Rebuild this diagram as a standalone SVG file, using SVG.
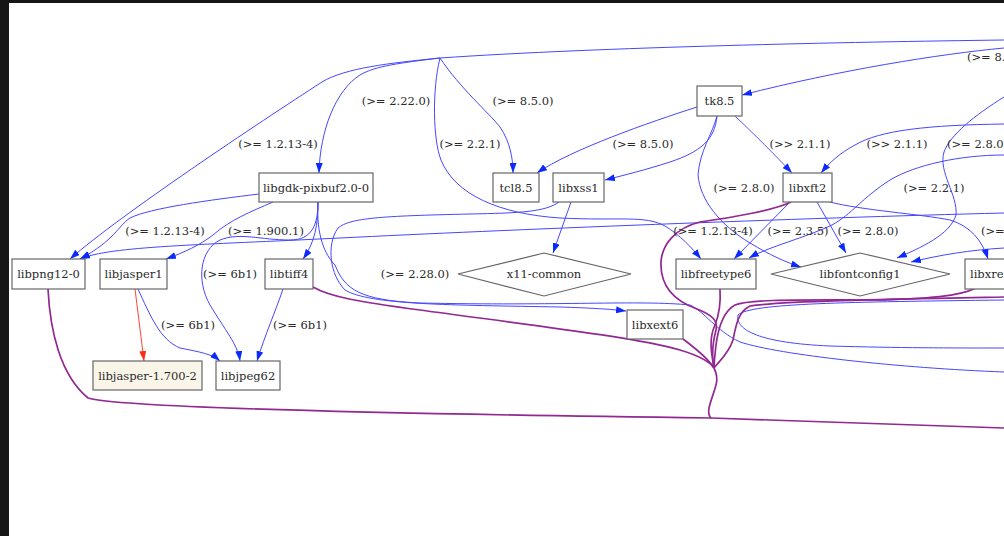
<svg xmlns="http://www.w3.org/2000/svg" width="1004" height="536" viewBox="0 0 1004 536">
<defs>
<marker id="ab" viewBox="0 0 10 7" refX="10" refY="3.5" markerWidth="10" markerHeight="7" markerUnits="userSpaceOnUse" orient="auto"><path d="M0,0 L10,3.5 L0,7 z" fill="#0a2aff"/></marker>
<marker id="ar" viewBox="0 0 10 7" refX="10" refY="3.5" markerWidth="10" markerHeight="7" markerUnits="userSpaceOnUse" orient="auto"><path d="M0,0 L10,3.5 L0,7 z" fill="#ff2a10"/></marker>
<style>
.n rect,.n polygon{fill:#fff;stroke:#666;stroke-width:1.2}
text{font-family:"DejaVu Serif","Liberation Serif",serif;font-size:11.5px;fill:#2a2a2a;text-anchor:middle}
.b{fill:none;stroke:#4646ff;stroke-width:1}
.ba{fill:none;stroke:#4646ff;stroke-width:1;marker-end:url(#ab)}
.p{fill:none;stroke:#922892;stroke-width:1.7}
.r{fill:none;stroke:#ff4433;stroke-width:1;marker-end:url(#ar)}
</style>
</defs>
<rect x="0" y="0" width="1004" height="536" fill="#161616"/>
<rect x="9" y="3" width="995" height="533" fill="#fff"/>
<g id="connectors">
<path class="b" d="M1004,40 C850,42 600,47 440,58"/>
<path class="ba" d="M440,58 C390,63 345,68 322,82 C260,122 120,215 70,259"/>
<path class="ba" d="M440,58 C400,63 375,66 360,75 C336,90 320,130 319,173"/>
<path class="ba" d="M440,58 C460,88 488,112 500,127 C510,142 513,158 513,173"/>
<path class="ba" d="M440,58 C432,90 433,140 441,160 C455,195 500,214 560,218 C620,221 645,215 665,226 C680,235 692,248 701,259"/>
<path class="ba" d="M697,107 C650,122 570,150 537,173"/>
<path class="ba" d="M717,116 C715,140 700,152 670,162 C645,170 625,175 605,180"/>
<path class="ba" d="M717,116 C712,135 700,150 698,175 C700,200 720,225 750,243 C770,255 785,262 801,267"/>
<path class="ba" d="M735,116 C755,135 775,155 792,173" style="stroke:#5555ff"/>
<path class="ba" d="M1004,48 C940,54 840,70 742,95"/>
<path class="ba" d="M1004,124 C930,125 880,130 855,145 C840,153 830,162 821,173"/>
<path class="ba" d="M1004,97 C975,115 950,135 944,152 C938,172 958,195 956,215 C950,235 920,248 897,258"/>
<path class="ba" d="M1004,155 C960,155 915,165 890,180 C862,198 852,214 832,225 C805,238 770,246 749,258"/>
<path class="ba" d="M1004,248 C970,250 940,255 911,262"/>
<path class="ba" d="M790,202 L734,259"/>
<path class="ba" d="M817,202 L846,253"/>
<path class="ba" d="M830,202 C860,210 920,214 950,220 C970,226 982,240 988,259"/>
<path class="ba" d="M571,202 L553,253"/>
<path class="ba" d="M559,202 C545,212 520,213 470,214 C380,216 350,218 338,228 C326,245 330,275 345,290 C370,305 450,305 560,307 C590,308 610,309 626,311"/>
<path class="ba" d="M1004,213 C800,218 500,230 340,238 C200,245 110,246 80,259"/>
<path class="ba" d="M259,194 C210,200 150,208 130,218 C118,226 115,240 80,259"/>
<path class="ba" d="M273,202 C250,212 230,220 213,235 C200,245 185,252 166,259"/>
<path class="ba" d="M318,202 C318,225 315,242 303,259"/>
<path class="ba" d="M318,202 C318,225 312,240 290,240 C260,240 240,232 220,240 C200,250 196,280 210,305 C225,330 238,345 240,361"/>
<path class="ba" d="M283,289 C276,310 265,335 257,361"/>
<path class="ba" d="M138,289 C150,315 160,340 180,348 C200,352 212,354 220,361"/>
<path class="r" d="M135,289 L144,361"/>
<path class="b" d="M318,202 C316,235 325,255 335,265 C345,290 360,300 420,303 C560,306 640,300 690,305 C705,312 715,330 740,342 C780,355 900,368 1004,372"/>
<path class="b" d="M1004,300 C850,302 750,303 738,315 C735,330 760,343 830,346 C900,348 950,348 1004,348"/>
<path class="p" d="M48,289 C50,330 60,375 88,398 C120,408 400,414 711,418 C800,421 900,425 1004,428"/>
<path class="p" d="M711,418 C705,412 712,400 716,385 C718,378 716,372 714,368"/>
<path class="p" d="M683,339 C695,348 708,358 714,368"/>
<path class="p" d="M313,287 C330,297 360,302 420,310 C530,325 640,338 680,350 C700,356 710,362 714,368"/>
<path class="p" d="M720,289 C721,305 719,315 715,325 C708,340 712,355 714,368"/>
<path class="p" d="M791,202 C775,210 730,218 700,222 C675,228 662,245 661,262 C660,285 672,300 697,309 C712,315 718,320 716,330 C712,345 712,358 714,368"/>
<path class="p" d="M976,288 C960,296 930,299 870,300 C800,300 750,299 735,305 C722,312 718,330 716,345 C715,355 714,362 714,368"/>
<path class="p" d="M1004,297 C900,299 780,301 750,306 C738,312 736,325 733,340 C728,355 718,362 714,368"/>
</g>
<g id="labels">
<text x="278" y="148">(&gt;= 1.2.13-4)</text>
<text x="396" y="105">(&gt;= 2.22.0)</text>
<text x="523" y="105">(&gt;= 8.5.0)</text>
<text x="470" y="148">(&gt;= 2.2.1)</text>
<text x="643" y="148">(&gt;= 8.5.0)</text>
<text x="800" y="148">(&gt;&gt; 2.1.1)</text>
<text x="897" y="148">(&gt;&gt; 2.1.1)</text>
<text x="947" y="148" style="text-anchor:start">(&gt;= 2.8.0</text>
<text x="967" y="61" style="text-anchor:start">(&gt;= 8.</text>
<text x="165" y="235">(&gt;= 1.2.13-4)</text>
<text x="266" y="235">(&gt;= 1.900.1)</text>
<text x="230" y="278">(&gt;= 6b1)</text>
<text x="188" y="329">(&gt;= 6b1)</text>
<text x="300" y="329">(&gt;= 6b1)</text>
<text x="415" y="278">(&gt;= 2.28.0)</text>
<text x="744" y="192">(&gt;= 2.8.0)</text>
<text x="713" y="235">(&gt;= 1.2.13-4)</text>
<text x="798" y="235">(&gt;= 2.3.5)</text>
<text x="868" y="235">(&gt;= 2.8.0)</text>
<text x="934" y="192">(&gt;= 2.2.1)</text>
<text x="981" y="235" style="text-anchor:start">(&gt;=</text>
</g>
<g id="tk8.5" class="n"><rect x="697" y="86" width="45" height="30"/><text x="719.5" y="105">tk8.5</text></g>
<g id="tcl8.5" class="n"><rect x="493" y="173" width="46" height="29"/><text x="516" y="192">tcl8.5</text></g>
<g id="libxss1" class="n"><rect x="553" y="173" width="51" height="29"/><text x="578.5" y="192">libxss1</text></g>
<g id="libgdk-pixbuf2.0-0" class="n"><rect x="259" y="173" width="114" height="29"/><text x="316" y="192">libgdk-pixbuf2.0-0</text></g>
<g id="libxft2" class="n"><rect x="783" y="173" width="49" height="29"/><text x="807.5" y="192">libxft2</text></g>
<g id="libpng12-0" class="n"><rect x="12" y="259" width="73" height="30"/><text x="48.5" y="278">libpng12-0</text></g>
<g id="libjasper1" class="n"><rect x="100" y="259" width="67" height="30"/><text x="133.5" y="278">libjasper1</text></g>
<g id="libtiff4" class="n"><rect x="265" y="259" width="48" height="30"/><text x="289" y="278">libtiff4</text></g>
<g id="x11-common" class="n"><polygon points="458,274 544,253 631,274 544,296"/><text x="544" y="278">x11-common</text></g>
<g id="libfreetype6" class="n"><rect x="676" y="259" width="80" height="30"/><text x="716" y="278">libfreetype6</text></g>
<g id="libfontconfig1" class="n"><polygon points="771,274 860,253 950,274 860,296"/><text x="860" y="278">libfontconfig1</text></g>
<g id="libxrender" class="n"><rect x="965" y="259" width="80" height="30"/><text x="970" y="278" style="text-anchor:start">libxre</text></g>
<g id="libxext6" class="n"><rect x="627" y="310" width="56" height="29"/><text x="655" y="329">libxext6</text></g>
<g id="libjasper-1.700-2" class="n"><rect x="93" y="361" width="109" height="29" style="fill:#faf5e9"/><text x="147.5" y="380">libjasper-1.700-2</text></g>
<g id="libjpeg62" class="n"><rect x="216" y="361" width="64" height="29"/><text x="248" y="380">libjpeg62</text></g>
</svg>
